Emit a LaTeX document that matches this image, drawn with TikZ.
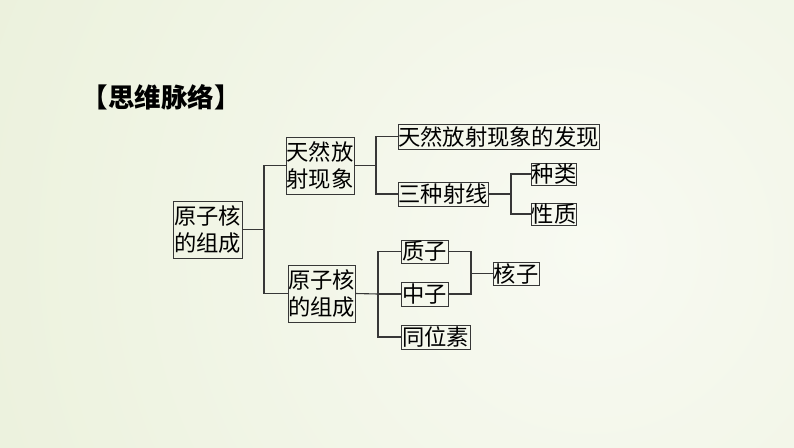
\documentclass[tikz,border=0pt]{standalone}
\usepackage{fontspec}
\newfontfamily\cjk{Noto Sans CJK SC}
\definecolor{bgout}{RGB}{224,233,201}
\definecolor{bgin}{RGB}{248,250,242}
\definecolor{ln}{RGB}{55,55,55}
\begin{document}
\begin{tikzpicture}[x=1pt,y=-1pt,
  bx/.style={draw=ln,line width=0.9pt,rectangle,inner sep=0pt,align=center,
    font=\cjk\fontsize{22.3}{27.5}\selectfont},
  cn/.style={draw=ln,line width=1.1pt}]
\useasboundingbox (0,0) rectangle (794,447);
\begin{scope}
\clip (0,0) rectangle (794,447);
\shade[inner color=bgin,outer color=bgout] (590,250) circle (1250);
\end{scope}
\node[font=\cjk\bfseries\fontsize{26.5}{28}\selectfont] (title) at (161,97) {【思维脉络】};
\node[bx,minimum width=69,minimum height=57] (A) at (207.5,229.5) {原子核\\的组成};
\node[bx,minimum width=68,minimum height=57] (B) at (320,165.5) {天然放\\射现象};
\node[bx,minimum width=67,minimum height=57] (C) at (321.5,293.5) {原子核\\的组成};
\node[bx,minimum width=201,minimum height=25] (D) at (498.5,136.5) {天然放射现象的发现};
\node[bx,minimum width=90,minimum height=24] (E) at (443,194) {三种射线};
\node[bx,minimum width=44,minimum height=22] (F) at (554,174) {种类};
\node[bx,minimum width=44,minimum height=22] (G) at (554,214) {性质};
\node[bx,minimum width=47,minimum height=23] (H) at (424.5,251.5) {质子};
\node[bx,minimum width=47,minimum height=24] (I) at (424.5,294) {中子};
\node[bx,minimum width=69,minimum height=24] (J) at (435.5,337) {同位素};
\node[bx,minimum width=46,minimum height=23] (K) at (516,273.5) {核子};
\coordinate (j1) at (264,229.5);
\coordinate (j2) at (376,165.5);
\coordinate (j3) at (511,194);
\coordinate (j4) at (378,294);
\coordinate (j5) at (471,273.5);
\draw[cn] (A.east) -- (j1);
\draw[cn] (B.west) -| (j1);
\draw[cn] (C.west) -| (j1);
\draw[cn] (B.east) -- (j2);
\draw[cn] (D.west) -| (j2);
\draw[cn] (E.west) -| (j2);
\draw[cn] (E.east) -- (j3);
\draw[cn] (F.west) -| (j3);
\draw[cn] (G.west) -| (j3);
\draw[cn] (C.east) -- (j4);
\draw[cn] (H.west) -| (j4);
\draw[cn] (I.west) -- (j4);
\draw[cn] (J.west) -| (j4);
\draw[cn] (H.east) -| (j5);
\draw[cn] (I.east) -| (j5);
\draw[cn] (K.west) -- (j5);
\end{tikzpicture}
\end{document}
